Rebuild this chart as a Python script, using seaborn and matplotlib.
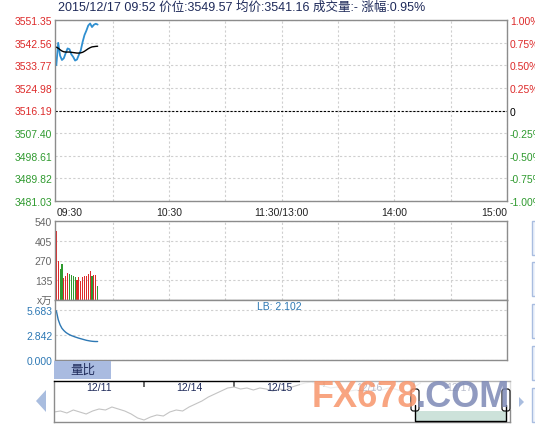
import numpy as np
import pandas as pd
import matplotlib
matplotlib.use("Agg")
import matplotlib.pyplot as plt
from matplotlib.patches import Rectangle, FancyBboxPatch, Polygon
import seaborn as sns

# ---- data ----
title = "2015/12/17 09:52 价位:3549.57 均价:3541.16 成交量:- 涨幅:0.95%"
prev_close = 3516.19

minutes = list(range(23))  # 09:30 .. 09:52
price = [3533.8, 3542.5, 3537.5, 3535.8, 3536.5, 3538.5, 3540.3, 3540.0, 3538.0,
         3537.0, 3535.6, 3536.0, 3537.8, 3539.5, 3542.8, 3545.5, 3547.2, 3549.2,
         3550.0, 3548.6, 3549.5, 3549.9, 3549.57]
avg_price = [3540.8, 3540.4, 3539.8, 3539.3, 3539.0, 3538.9, 3538.9, 3538.9, 3538.8,
             3538.7, 3538.6, 3538.5, 3538.5, 3538.6, 3538.8, 3539.2, 3539.7, 3540.2,
             3540.6, 3540.9, 3541.0, 3541.1, 3541.16]
volume = [474, 269, 212, 246, 148, 166, 182, 178, 171, 166, 160, 139, 155, 132,
          155, 162, 166, 175, 200, 166, 171, 170, 98]
ratio = [5.6, 4.6, 4.0, 3.6, 3.35, 3.15, 3.0, 2.88, 2.78, 2.70, 2.62, 2.55, 2.48,
         2.42, 2.36, 2.30, 2.24, 2.20, 2.16, 2.13, 2.11, 2.10, 2.102]

price_ticks = [3481.03, 3489.82, 3498.61, 3507.40, 3516.19, 3524.98, 3533.77, 3542.56, 3551.35]
pct_ticks = [-1.0, -0.75, -0.5, -0.25, 0.0, 0.25, 0.5, 0.75, 1.0]
pct_labels = ["-1.00%", "-0.75%", "-0.50%", "-0.25%", "0", "0.25%", "0.50%", "0.75%", "1.00%"]
time_ticks = [0, 60, 120, 180, 240]
time_labels = ["09:30", "10:30", "11:30/13:00", "14:00", "15:00"]
vol_ticks = [0, 135, 270, 405, 540]
vol_labels = ["x万", "135", "270", "405", "540"]
ratio_ticks = [0.0, 2.842, 5.683]
ratio_labels = ["0.000", "2.842", "5.683"]

nav_days = ["12/11", "12/14", "12/15", "12/16", "12/17"]
nav_price = [3440, 3444, 3436, 3448, 3440, 3432, 3444, 3452, 3448, 3460, 3452, 3444, 3432, 3416,
             3408, 3420, 3428, 3424, 3440, 3448, 3444, 3460, 3472, 3484, 3500, 3512, 3524, 3536,
             3540, 3532, 3536, 3528, 3536, 3532, 3524, 3532, 3528, 3540, 3548, 3556, 3560, 3552,
             3544, 3536, 3540, 3532, 3524, 3528, 3520, 3524, 3532, 3528, 3536, 3532, 3524, 3520,
             3540, 3556]

# ---- style ----
RED = "#dd2a2a"
GREEN = "#2f9a2f"
BLUE = "#2f8fd0"
RBLUE = "#2d78b4"
NAVY = "#1e2a5a"
GRID = "#cfcfcf"
SPINE = "#8c8c8c"
X0 = -0.7  # first minute sits just right of the left frame

sns.set_theme(style="white")
plt.rcParams["font.family"] = ["Liberation Sans", "Noto Sans CJK SC", "DejaVu Sans"]

W, H = 535, 427
fig = plt.figure(figsize=(W / 100, H / 100), dpi=100)


def px_axes(x0, y0, x1, y1):
    return fig.add_axes([x0 / W, 1 - y1 / H, (x1 - x0) / W, (y1 - y0) / H])


def frame(ax):
    for s in ax.spines.values():
        s.set_visible(True)
        s.set_color(SPINE)
        s.set_linewidth(1)


def vgrid(ax):
    ax.set_xlim(X0, 240)
    ax.set_xticks(time_ticks)
    ax.set_xticks([30, 90, 150, 210], minor=True)
    ax.xaxis.grid(True, which="both", color=GRID, ls=(0, (2, 2)), lw=0.8)
    # no grid line on top of the left frame
    ax.get_xgridlines()[0].set_visible(False)


# ---- price panel ----
ax = px_axes(55, 21, 507, 202)
sns.lineplot(x=minutes, y=price, ax=ax, color=BLUE, linewidth=1.3)
sns.lineplot(x=minutes, y=avg_price, ax=ax, color="black", linewidth=1.0)
ax.set_ylim(price_ticks[0], price_ticks[-1])
vgrid(ax)
ax.set_yticks(price_ticks)
ax.set_yticklabels([f"{v:.2f}" for v in price_ticks])
for lbl, v in zip(ax.get_yticklabels(), price_ticks):
    lbl.set_color(RED if v >= prev_close else GREEN)
ax.yaxis.grid(True, color=GRID, ls=(0, (2, 2)), lw=0.8)
ax.axhline(prev_close, color="black", ls=(0, (2, 1.5)), lw=0.8)
ax.set_xticklabels(time_labels)
xl = ax.get_xticklabels()
xl[0].set_ha("left")
xl[-1].set_ha("right")
ax.tick_params(axis="both", length=0, labelsize=7.5, pad=2)
ax.tick_params(axis="x", pad=4, colors="#222222")
ax.tick_params(axis="x", which="minor", length=0)
ax.set_xlabel("")
ax.set_ylabel("")
frame(ax)

axp = ax.twinx()
axp.set_ylim(-1, 1)
axp.set_yticks(pct_ticks)
axp.set_yticklabels(pct_labels)
for lbl, v in zip(axp.get_yticklabels(), pct_ticks):
    lbl.set_color(RED if v > 0 else ("black" if v == 0 else GREEN))
axp.tick_params(axis="y", length=0, labelsize=7.5, pad=2)
axp.grid(False)
for s in axp.spines.values():
    s.set_visible(False)

# ---- volume panel ----
axv = px_axes(55, 222, 507, 301)
dirs = ["up" if p >= q else "down" for p, q in zip(price, [prev_close] + price[:-1])]
df = pd.DataFrame({"minute": minutes, "volume": volume, "dir": dirs})
sns.barplot(data=df, x="minute", y="volume", hue="dir",
            palette={"up": RED, "down": GREEN}, native_scale=True, width=0.6,
            dodge=False, errorbar=None, legend=False, saturation=1,
            linewidth=0, ax=axv)
axv.set_ylim(0, 540)
vgrid(axv)
axv.set_xticklabels([])
axv.set_yticks(vol_ticks)
axv.set_yticklabels(vol_labels)
axv.yaxis.grid(True, color=GRID, ls=(0, (2, 2)), lw=0.8)
axv.tick_params(axis="both", which="both", length=0, labelsize=7.5, pad=2, colors="#666666")
axv.set_xlabel("")
axv.set_ylabel("")
frame(axv)

# ---- volume ratio panel ----
axr = px_axes(55, 301, 507, 361)
sns.lineplot(x=minutes, y=ratio, ax=axr, color=RBLUE, linewidth=1.0)
axr.set_xlim(X0, 240)
axr.set_ylim(0, 6.82)
axr.set_xticks([])
axr.set_yticks(ratio_ticks)
axr.set_yticklabels(ratio_labels)
axr.yaxis.grid(True, color=GRID, ls=(0, (2, 2)), lw=0.8)
axr.tick_params(axis="y", length=0, labelsize=7.5, pad=2, colors=RBLUE)
axr.set_xlabel("")
axr.set_ylabel("")
frame(axr)

# ---- navigator ----
axn = px_axes(54, 381.5, 510, 423)
nav_x = list(range(len(nav_price)))
sns.lineplot(x=nav_x, y=nav_price, ax=axn, color="#c4c4c4", linewidth=0.8)
axn.set_xlim(0, 70.9)
axn.set_ylim(3400, 3566)
axn.set_xticks([14, 28, 42, 56])
axn.tick_params(axis="x", top=True, bottom=False, direction="in", length=4,
                labeltop=False, labelbottom=False, color="#555555")
axn.set_yticks([])
axn.set_xlabel("")
axn.set_ylabel("")
frame(axn)
axn.spines["top"].set_color("black")
for i, d in enumerate(nav_days):
    axn.text(i * 14 + 7, 3540, d, ha="center", va="center", fontsize=7.5, color=NAVY)

# ---- decorations in pixel space ----
ov = fig.add_axes([0, 0, 1, 1])
ov.set_xlim(0, W)
ov.set_ylim(H, 0)
ov.axis("off")

ov.text(58, 7.5, title, ha="left", va="center", fontsize=9, color=NAVY)
ov.text(257, 307.5, "LB: 2.102", ha="left", va="center", fontsize=7.5, color=RBLUE)

ov.add_patch(Rectangle((54, 362), 57, 17.5, fc="#a9bbe0", ec="none"))
ov.text(82.5, 371, "量比", ha="center", va="center", fontsize=9, color=NAVY)

ov.add_patch(Polygon([(36, 402), (46, 391), (46, 413)], closed=True, fc="#a9bddf", ec="none"))
ov.add_patch(Polygon([(519, 398), (519, 408), (524, 403)], closed=True, fc="#a9bddf", ec="none"))
for y0 in [222, 263, 305, 347, 389]:
    ov.add_patch(Rectangle((531.5, y0), 10, 34, fc="#eef3fb", ec="#a9bde0", lw=1))

# watermark veil, selection window, handles
ov.add_patch(Rectangle((300, 378), 217, 33, fc="white", ec="none", alpha=0.7))
ov.add_patch(Rectangle((415, 412), 91, 9.7, fc="#cde2da", ec="none"))
ov.plot([415, 415, 506, 506], [406, 421.7, 421.7, 406], color="black", lw=1)
for hx in [411, 502]:
    ov.add_patch(FancyBboxPatch((hx, 390), 8, 22, boxstyle="round,pad=0,rounding_size=2.5",
                                fc="white", ec="black", lw=0.8))
ov.text(312, 407, "FX678", ha="left", va="baseline", fontsize=26, fontweight="bold",
        color="#f7956b", alpha=0.85, family="Liberation Sans")
ov.text(416, 407, ".COM", ha="left", va="baseline", fontsize=26, fontweight="bold",
        color="#7d89b5", alpha=0.85, family="Liberation Sans")

fig.savefig("out.png", dpi=100)
